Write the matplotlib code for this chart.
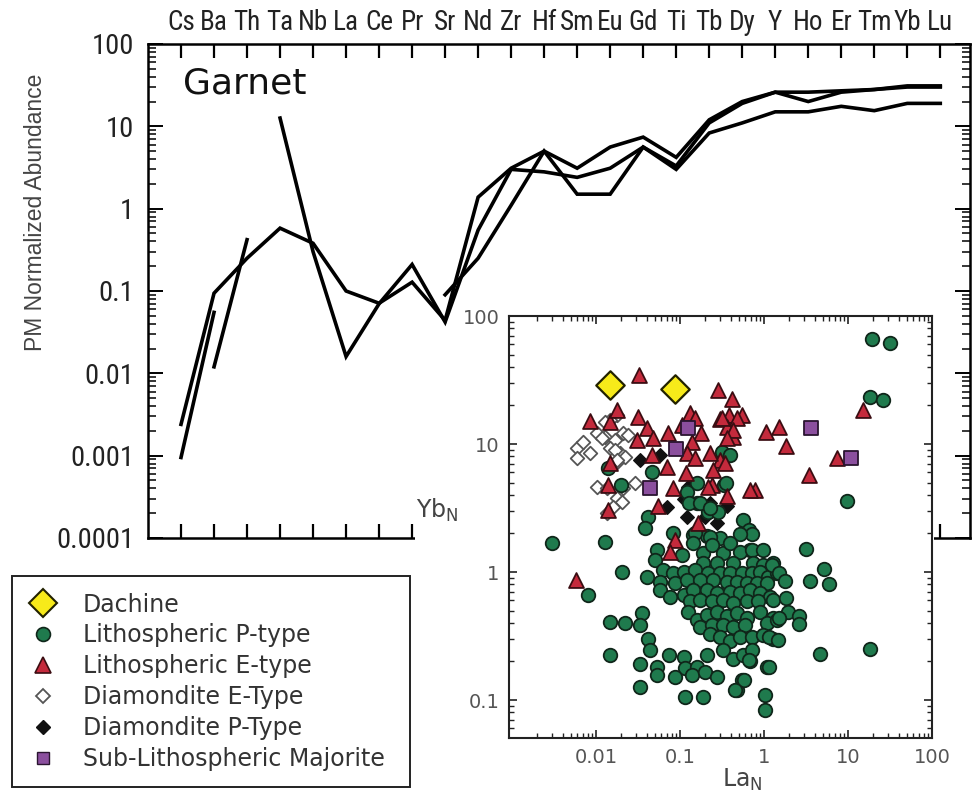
import numpy as np
import matplotlib
matplotlib.use('Agg')
import matplotlib.pyplot as plt
from matplotlib.lines import Line2D
from matplotlib.patches import Rectangle
from matplotlib.ticker import LogLocator, NullFormatter

nan = np.nan

# spider diagram: primitive-mantle normalised garnet inclusions
elements = ['Cs', 'Ba', 'Th', 'Ta', 'Nb', 'La', 'Ce', 'Pr', 'Sr', 'Nd', 'Zr', 'Hf',
            'Sm', 'Eu', 'Gd', 'Ti', 'Tb', 'Dy', 'Y', 'Ho', 'Er', 'Tm', 'Yb', 'Lu']
garnet_a = [0.0024, 0.094, 0.25, 0.58, 0.38, 0.10, 0.071, 0.128, 0.044, 1.38, 3.1, 5.0,
            3.1, 5.6, 7.4, 4.2, 12, 20, 26, 26, 27, 28, 31, 31]
garnet_b = [0.00095, 0.055, nan, 12.6, 0.30, 0.016, 0.07, 0.21, 0.042, 0.55, 3.0, 2.8,
            2.4, 3.1, 5.6, 3.3, 11, 19, 26, 20, 26, 28, 30, 30]
garnet_c = [nan, 0.012, 0.42, nan, nan, nan, nan, nan, 0.09, 0.25, 1.1, 5.0,
            1.5, 1.5, 5.6, 3.0, 8.3, 11, 15, 15, 17.5, 15.5, 19, 19]

# inset: Yb_N vs La_N
dachine_la = [0.0147, 0.087]
dachine_yb = [29, 27]

majorite_la = [0.124, 0.089, 0.044, 3.6, 10.9]
majorite_yb = [13.3, 9.1, 4.5, 13.3, 7.8]

diam_e_la = [0.0059, 0.0070, 0.0085, 0.0059, 0.0103, 0.0128, 0.0178, 0.0147, 0.0168,
             0.021, 0.0147, 0.0193, 0.0178, 0.0118, 0.0168, 0.022, 0.0178, 0.024,
             0.0103, 0.0135, 0.021, 0.029, 0.0178, 0.0204, 0.0159, 0.0135, 0.0128]
diam_e_yb = [9.3, 10.4, 8.5, 7.8, 12.2, 11.3, 16.9, 15.4, 10.7,
             12.2, 9.3, 8.5, 7.2, 11.1, 9.0, 7.9, 7.5, 11.8,
             4.6, 4.5, 4.5, 5.0, 3.8, 3.5, 3.2, 2.9, 14.9]

diam_p_la = [0.033, 0.058, 0.125, 0.07, 0.23, 0.275, 0.2, 0.12, 0.11, 0.36]
diam_p_yb = [7.5, 8.2, 4.6, 3.2, 3.45, 2.4, 2.7, 2.7, 3.7, 3.3]

litho_e_la = [0.28, 0.42, 0.13, 0.15, 0.30, 0.38, 0.55, 0.18, 0.36, 0.43, 0.14, 0.12,
              0.15, 0.30, 1.06, 1.5, 1.83, 7.4, 3.4, 15.1, 0.78, 0.36, 0.24, 0.118,
              0.0325, 0.0085, 0.0147, 0.0178, 0.032, 0.040, 0.031, 0.048, 0.072,
              0.047, 0.0147, 0.07, 0.0139, 0.083, 0.055, 0.164, 0.087,
              0.32, 0.48, 0.43, 0.36, 0.68, 0.014, 0.0058, 0.076,
              0.106, 0.23, 0.25, 0.34, 0.215]
litho_e_yb = [26.5, 22.5, 17.5, 16, 15.7, 16.9, 16.9, 12.2, 13.6, 11.3, 10.4, 8.5,
              7.8, 7.5, 12.4, 13.6, 9.6, 7.8, 5.7, 18.4, 4.4, 3.9, 4.8, 5.9,
              34.6, 15.1, 14.8, 18.4, 16.3, 13.3, 10.8, 11.1, 12.2,
              8.2, 7.1, 6.6, 4.8, 4.5, 3.3, 2.4, 1.78,
              16, 16, 12.9, 11.1, 4.4, 3.05, 0.87, 1.43,
              14.1, 8.5, 6.3, 7.1, 4.6]

litho_p_la = [0.003, 0.0128, 0.0081, 0.0202, 0.040, 0.014, 0.020, 0.047, 0.042, 0.038,
              0.083, 0.143, 0.21, 0.30, 0.16, 0.215, 0.28, 0.56, 0.66, 0.72, 0.52,
              0.32, 0.39, 0.33, 0.35, 0.16, 0.12, 0.128, 0.173, 0.23, 0.23, 0.68,
              0.15, 3.17, 9.7, 19.3, 31.6, 18.3, 26,
              0.053, 0.050, 0.105, 0.144, 0.19, 0.238, 0.328, 0.394, 0.518, 0.713,
              0.98, 1.29, 0.19, 0.273, 0.431, 0.746, 0.98,
              0.063, 0.058, 0.083, 0.11, 0.151, 0.217, 0.30, 0.394, 0.542, 0.713,
              0.896, 1.13, 1.42, 0.087, 0.12, 0.173, 0.249, 0.36, 0.473, 0.622,
              0.818, 1.08,
              0.058, 0.076, 0.11, 0.144, 0.208, 0.273, 0.394, 0.518, 0.681, 0.896,
              1.18, 0.132, 0.173, 0.238, 0.328, 0.431, 0.622, 0.857, 1.29,
              0.035, 0.0147, 0.0221, 0.0334, 0.126, 0.158, 0.208, 0.273, 0.36, 0.473,
              0.622, 0.896, 1.29, 0.173, 0.238, 0.328, 0.431, 0.594, 1.08, 1.42,
              0.042, 0.227, 0.30, 0.394, 0.518, 0.713, 0.98, 1.29,
              0.044, 0.0147, 0.073, 0.11, 0.208, 0.328, 0.431, 0.567, 0.713, 0.0334,
              0.053, 0.115, 0.158, 0.681, 1.08, 0.053, 0.087, 0.138, 0.199, 0.273,
              0.542, 0.0334, 0.473, 0.115, 0.19, 1.03, 1.03,
              5.2, 3.5, 6.0, 1.25, 1.52, 1.76, 1.85, 1.95, 2.6, 2.6, 1.52, 1.14,
              1.45, 4.7, 18.4, 1.14, 0.57, 0.45, 0.66]
litho_p_yb = [1.68, 1.72, 0.66, 1.0, 0.92, 6.5, 4.8, 6.0, 2.7, 2.2,
              2.0, 1.95, 1.9, 1.85, 3.45, 2.94, 2.94, 2.55, 2.13, 1.99, 1.99,
              8.7, 8.2, 4.8, 5.0, 5.0, 4.2, 3.45, 3.45, 3.16, 1.88, 1.49,
              2.0, 1.5, 3.6, 66, 61, 23.3, 22,
              1.49, 1.24, 1.36, 1.68, 1.40, 1.62, 1.40, 1.68, 1.44, 1.49,
              1.49, 1.17, 1.17, 1.17, 1.17, 1.17, 1.13,
              1.04, 0.84, 0.98, 1.0, 1.04, 0.98, 0.98, 0.98, 0.98, 0.98,
              1.0, 0.92, 0.98, 0.815, 0.866, 0.866, 0.866, 0.84, 0.84, 0.815,
              0.815, 0.815,
              0.72, 0.64, 0.66, 0.72, 0.72, 0.68, 0.70, 0.68, 0.72, 0.68,
              0.64, 0.59, 0.60, 0.59, 0.60, 0.57, 0.59, 0.59, 0.60,
              0.475, 0.41, 0.40, 0.385, 0.49, 0.42, 0.46, 0.49, 0.45, 0.475,
              0.435, 0.49, 0.435, 0.374, 0.385, 0.385, 0.374, 0.385, 0.40, 0.42,
              0.30, 0.33, 0.31, 0.29, 0.31, 0.31, 0.32, 0.30,
              0.246, 0.225, 0.225, 0.215, 0.225, 0.246, 0.21, 0.225, 0.246, 0.19,
              0.18, 0.177, 0.18, 0.20, 0.18, 0.157, 0.152, 0.157, 0.166, 0.152,
              0.143, 0.127, 0.12, 0.106, 0.106, 0.109, 0.084,
              1.05, 0.85, 0.80, 1.14, 0.98, 0.85, 0.63, 0.49, 0.45, 0.39, 0.44, 0.31,
              0.295, 0.23, 0.25, 0.18, 0.144, 0.12, 0.205]

legend_labels = ['Dachine', 'Lithospheric P-type', 'Lithospheric E-type',
                 'Diamondite E-Type', 'Diamondite P-Type', 'Sub-Lithospheric Majorite']

green = '#1f7a4d'
red = '#c42a3c'
yellow = '#f7ea1a'
purple = '#8b4f9e'
narrow = ['Roboto Condensed', 'Liberation Sans Narrow', 'Liberation Sans']

plt.rcParams['mathtext.default'] = 'regular'

fig = plt.figure(figsize=(9.72, 8.02), dpi=100)

# ---- main spider plot ----
ax = fig.add_axes([148 / 972, 1 - 538 / 802, 822 / 972, 494 / 802])
x = np.arange(len(elements))
for g in (garnet_a, garnet_b, garnet_c):
    ax.plot(x, g, color='black', lw=2.6, solid_joinstyle='miter')
ax.set_yscale('log')
ax.set_ylim(1e-4, 100)
ax.set_xlim(-1, 23.9)
ax.set_xticks(x)
ax.set_xticklabels(elements, fontfamily=narrow, fontsize=19.5, color='#222222')
ax.tick_params(axis='x', which='major', direction='in', top=True, bottom=True,
               labeltop=True, labelbottom=False, length=10, width=1.6, pad=6)
ax.tick_params(axis='x', which='minor', top=False, bottom=False)
yt = [1e-4, 1e-3, 1e-2, 1e-1, 1, 10, 100]
ax.set_yticks(yt)
ax.set_yticklabels(['0.0001', '0.001', '0.01', '0.1', '1', '10', '100'],
                   fontfamily=narrow, fontsize=20.5, color='#222222')
ax.yaxis.set_minor_locator(LogLocator(base=10, subs=np.arange(2, 10), numticks=20))
ax.yaxis.set_minor_formatter(NullFormatter())
ax.tick_params(axis='y', which='major', direction='in', left=True, right=True,
               length=11, width=1.4, pad=10)
ax.tick_params(axis='y', which='minor', direction='in', left=True, right=True,
               length=6, width=1.1)
for s in ax.spines.values():
    s.set_linewidth(1.8)

fig.text(183 / 972, 1 - 84 / 802, 'Garnet', va='center', ha='left', fontsize=26,
         color='#111111')
fig.text(35 / 972, 1 - 212 / 802, 'PM Normalized Abundance', rotation=90,
         va='center', ha='center', fontsize=16.5, color='#444444',
         fontfamily='Liberation Sans')

# white panel the inset sits on
fig.add_artist(Rectangle((415 / 972, 0), (934 - 415) / 972, (802 - 330) / 802,
                         transform=fig.transFigure, facecolor='white',
                         edgecolor='none', zorder=1))

# ---- inset scatter ----
ax2 = fig.add_axes([509 / 972, 1 - 738 / 802, 423 / 972, 422 / 802])
ax2.set_zorder(2)
ax2.set_xscale('log')
ax2.set_yscale('log')
ax2.set_xlim(0.00092, 100)
ax2.set_ylim(0.0505, 100)

ax2.scatter(diam_e_la, diam_e_yb, marker='D', s=48, facecolor='white',
            edgecolor='#555555', linewidth=1.3, zorder=2)
ax2.scatter(diam_p_la, diam_p_yb, marker='D', s=48, facecolor='#111111',
            edgecolor='#111111', linewidth=1.0, zorder=2)
ax2.scatter(litho_p_la, litho_p_yb, marker='o', s=95, facecolor=green,
            edgecolor='#10261a', linewidth=1.3, zorder=3)
ax2.scatter(litho_e_la, litho_e_yb, marker='^', s=115, facecolor=red,
            edgecolor='#3b0d12', linewidth=1.3, zorder=4)
ax2.scatter(majorite_la, majorite_yb, marker='s', s=95, facecolor=purple,
            edgecolor='#2a1530', linewidth=1.3, zorder=5)
ax2.scatter(dachine_la, dachine_yb, marker='D', s=210, facecolor=yellow,
            edgecolor='#222200', linewidth=1.6, zorder=6)

ax2.set_xticks([0.01, 0.1, 1, 10, 100])
ax2.set_xticklabels(['0.01', '0.1', '1', '10', '100'])
ax2.set_yticks([0.1, 1, 10, 100])
ax2.set_yticklabels(['0.1', '1', '10', '100'])
ax2.xaxis.set_minor_locator(LogLocator(base=10, subs=np.arange(2, 10), numticks=20))
ax2.yaxis.set_minor_locator(LogLocator(base=10, subs=np.arange(2, 10), numticks=20))
ax2.xaxis.set_minor_formatter(NullFormatter())
ax2.yaxis.set_minor_formatter(NullFormatter())
ax2.tick_params(which='both', direction='in', top=True, right=True,
                labelsize=14, labelcolor='#555555', color='#222222')
ax2.tick_params(which='major', length=6, width=1.2, pad=7)
ax2.tick_params(which='minor', length=3.5, width=1.0)
for s in ax2.spines.values():
    s.set_linewidth(1.5)
    s.set_color('#222222')

fig.text(437 / 972, 1 - 510 / 802, 'Yb$_N$', ha='center', va='center',
         fontsize=17, color='#444444', zorder=3)
fig.text(742 / 972, 1 - 780 / 802, 'La$_N$', ha='center', va='center',
         fontsize=17, color='#444444', zorder=3)

# ---- legend ----
handles = [
    Line2D([], [], ls='none', marker='D', ms=14, mfc=yellow, mec='#222200', mew=1.5),
    Line2D([], [], ls='none', marker='o', ms=10, mfc=green, mec='#10261a', mew=1.2),
    Line2D([], [], ls='none', marker='^', ms=11, mfc=red, mec='#3b0d12', mew=1.2),
    Line2D([], [], ls='none', marker='D', ms=7, mfc='white', mec='#555555', mew=1.3),
    Line2D([], [], ls='none', marker='D', ms=7, mfc='#111111', mec='#111111'),
    Line2D([], [], ls='none', marker='s', ms=9, mfc=purple, mec='#2a1530', mew=1.0),
]
leg = fig.legend(handles, legend_labels, loc='upper left',
                 bbox_to_anchor=(12 / 972, 1 - 576 / 802, 398 / 972, 0.0),
                 mode='expand', borderaxespad=0, fontsize=17, labelspacing=0.29,
                 handletextpad=1.1, handlelength=1.2, borderpad=0.7,
                 fancybox=False, framealpha=1, edgecolor='#222222',
                 labelcolor='#333333')
leg.get_frame().set_linewidth(1.4)
leg.set_zorder(4)

fig.savefig('out.png', dpi=100)
